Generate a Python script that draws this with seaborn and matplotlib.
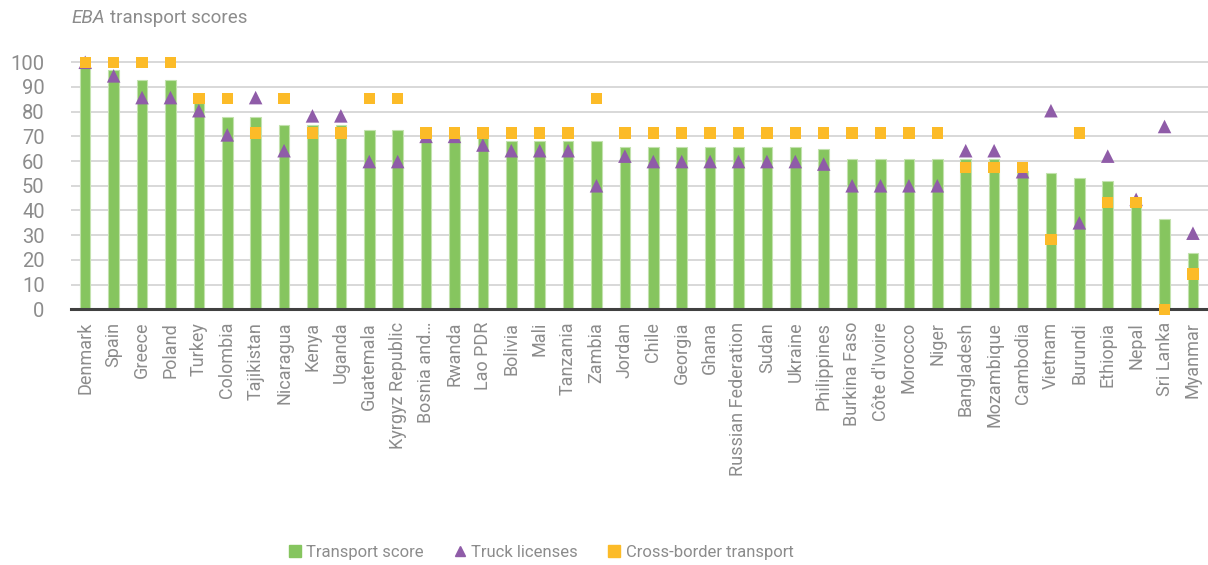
"""EBA transport scores: bar + marker chart."""

import numpy as np
import pandas as pd
import matplotlib
matplotlib.use("Agg")
import matplotlib.pyplot as plt
from matplotlib.lines import Line2D
import seaborn as sns

# Data
countries = [
    "Denmark", "Spain", "Greece", "Poland", "Turkey", "Colombia", "Tajikistan",
    "Nicaragua", "Kenya", "Uganda", "Guatemala", "Kyrgyz Republic", "Bosnia and\u2026",
    "Rwanda", "Lao PDR", "Bolivia", "Mali", "Tanzania", "Zambia", "Jordan", "Chile",
    "Georgia", "Ghana", "Russian Federation", "Sudan", "Ukraine", "Philippines",
    "Burkina Faso", "Côte d'Ivoire", "Morocco", "Niger", "Bangladesh", "Mozambique",
    "Cambodia", "Vietnam", "Burundi", "Ethiopia", "Nepal", "Sri Lanka", "Myanmar",
]
transport_score = [
    98, 97, 93, 93, 83.5, 78, 78, 74.6, 74.6, 74.6, 72.5, 72.5, 70,
    70, 70, 68, 68, 68, 68, 65.8, 65.8, 65.8, 65.8, 65.8, 65.8, 65.8, 65,
    60.7, 60.7, 60.7, 60.7, 60.7, 60.7, 56, 55, 53, 52, 44, 36.7, 22.7,
]
truck_licenses = [
    100, 94.5, 85.7, 85.7, 80.4, 70.6, 85.7, 64.2, 78.3, 78.3, 59.8, 59.8, 70,
    70, 66.5, 64.2, 64.2, 64.2, 50, 62, 59.8, 59.8, 59.8, 59.8, 59.8, 59.8, 58.8,
    50, 50, 50, 50, 64.2, 64.2, 55.7, 80.4, 35, 62, 44.5, 74, 30.8,
]
cross_border = [
    100, 100, 100, 100, 85.4, 85.4, 71.4, 85.4, 71.4, 71.4, 85.4, 85.4, 71.4,
    71.4, 71.4, 71.4, 71.4, 71.4, 85.4, 71.4, 71.4, 71.4, 71.4, 71.4, 71.4, 71.4, 71.4,
    71.4, 71.4, 71.4, 71.4, 57.5, 57.5, 57.5, 28.3, 71.4, 43.3, 43.3, 0, 14.2,
]

GREEN = "#86C55F"
PURPLE = "#8F5CA8"
YELLOW = "#FCBB28"
GREY = "#8C8C8C"

df = pd.DataFrame({
    "country": countries,
    "transport": transport_score,
    "truck": truck_licenses,
    "cross": cross_border,
})

sns.set_style("white")
plt.rcParams["font.family"] = ["Roboto", "DejaVu Sans"]

fig = plt.figure(figsize=(12.08, 5.65), dpi=100)
ax = fig.add_axes([0.0588, 0.4526, 0.9412, 0.4634])

sns.barplot(
    data=df, x="country", y="transport", color=GREEN, width=0.37,
    edgecolor="#C3E2AE", linewidth=0.8, saturation=1, ax=ax, zorder=2,
)
sns.scatterplot(
    data=df, x="country", y="truck", marker="^", s=95, color=PURPLE,
    edgecolor="none", ax=ax, zorder=4, clip_on=False,
)
sns.scatterplot(
    data=df, x="country", y="cross", marker="s", s=68, color=YELLOW,
    edgecolor="none", ax=ax, zorder=5, clip_on=False,
)

ax.set_xlim(-0.5, len(countries) - 0.47)
ax.set_ylim(0, 106)
ax.set_yticks(np.arange(0, 101, 10))
ax.yaxis.grid(True, color="#D6D6D6", linewidth=1.3)
ax.set_axisbelow(True)
ax.set_xlabel("")
ax.set_ylabel("")

for side in ["top", "right", "left"]:
    ax.spines[side].set_visible(False)
ax.spines["bottom"].set_color("#404040")
ax.spines["bottom"].set_linewidth(2.2)
ax.spines["bottom"].set_zorder(3)

ax.tick_params(axis="y", length=0, pad=19, labelsize=14.5, labelcolor=GREY)
ax.tick_params(axis="x", length=0, pad=9, labelsize=13, labelcolor=GREY, rotation=90)

fig.text(0.0595, 0.968, "EBA", fontsize=13.5, color=GREY, style="italic", va="center")
fig.text(0.091, 0.968, "transport scores", fontsize=13.5, color=GREY, va="center")

handles = [
    Line2D([], [], marker="s", linestyle="none", markersize=9, color=GREEN),
    Line2D([], [], marker="^", linestyle="none", markersize=7.5, color=PURPLE),
    Line2D([], [], marker="s", linestyle="none", markersize=8, color=YELLOW),
]
labels = ["Transport score", "Truck licenses", "Cross-border transport"]
leg = fig.legend(
    handles, labels, loc="center", bbox_to_anchor=(0.448, 0.022), ncol=3,
    frameon=False, fontsize=12, handlelength=0.7, handletextpad=0.35,
    columnspacing=1.8,
)
for t in leg.get_texts():
    t.set_color(GREY)

fig.savefig("out.png", dpi=100, facecolor="white")
plt.close(fig)
